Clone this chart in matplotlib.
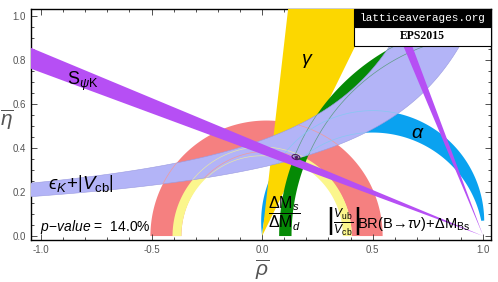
import matplotlib.pyplot as plt
import numpy as np
from matplotlib.patches import Polygon, Ellipse, Rectangle

plt.rcParams['font.family'] = ['Liberation Sans', 'DejaVu Sans']
plt.rcParams['mathtext.fontset'] = 'custom'
plt.rcParams['mathtext.rm'] = 'Liberation Sans'
plt.rcParams['mathtext.it'] = 'Liberation Sans:italic'
plt.rcParams['mathtext.bf'] = 'Liberation Sans:bold'

# constraints
# circular bands: (centre on rho axis, inner radius, outer radius)
btaunu_band = (0.02, 0.385, 0.525)   # BR(B->tau nu) + dM_Bs
vub_band = (0.0, 0.365, 0.405)       # |Vub/Vcb|
dm_band = (1.053, 0.92, 0.976)       # dMs/dMd
gamma_deg = (64.0, 83.5)             # angle at (0,0)
alpha_deg = (82.5, 93.5)             # angle at the apex
beta_deg = (20.4, 22.7)              # S_psiK, angle at (1,0)
beta2_deg = (67.3, 69.6)             # S_psiK, second solution
epsk_lower = (1.40, 0.438, 0.0)      # eta = b / (a - rho) + d
epsk_upper = (1.125, 0.457, 0.03)
apex = (0.153, 0.359)
p_value = 14.0

c_red = '#f58080'
c_vub = '#fbf68c'
c_gamma = '#fcd700'
c_green = '#058a05'
c_alpha = '#0aa2f0'
c_epsk = '#b3b4f7'
c_purple = '#b64ff4'

fig = plt.figure(figsize=(4.98, 2.82), dpi=100)
ax = fig.add_axes([31/498, 42/282, 460/498, 231/282])


def annulus(c, r1, r2):
    t = np.linspace(0, np.pi, 300)
    outer = np.column_stack([c + r2*np.cos(t), r2*np.sin(t)])
    inner = np.column_stack([c + r1*np.cos(t[::-1]), r1*np.sin(t[::-1])])
    return np.vstack([outer, inner])


def wedge(x0, a1, a2, sign=1):
    pts = [(x0, 0)]
    for a in (a1, a2):
        a = np.radians(a)
        pts.append((x0 + sign*3*np.cos(a), 3*np.sin(a)))
    return np.array(pts)


def alpha_arc(a, gmin=4.0):
    g = np.radians(np.linspace(gmin, 180 - a, 200))
    r = np.sin(np.radians(180 - a) - g) / np.sin(np.radians(a))
    return np.column_stack([r*np.cos(g), r*np.sin(g)])


def hyperbola(a, b, d):
    rho = np.linspace(-1.2, a - b/(1.2 - d), 300)
    return np.column_stack([rho, b/(a - rho) + d])


ax.add_patch(Polygon(annulus(*btaunu_band), closed=True, fc=c_red, ec='none', zorder=1))
ax.add_patch(Polygon(annulus(*vub_band), closed=True, fc=c_vub, ec='none', zorder=2))
a_lo = alpha_arc(alpha_deg[0])
a_hi = alpha_arc(alpha_deg[1])
ax.add_patch(Polygon(np.vstack([a_lo, a_hi[::-1]]), closed=True, fc=c_alpha, ec='none', zorder=3))
ax.add_patch(Polygon(wedge(0, *gamma_deg), closed=True, fc=c_gamma, ec='none', zorder=4))
ax.add_patch(Polygon(annulus(*dm_band), closed=True, fc=c_green, ec='none', zorder=5))

lo = hyperbola(*epsk_lower)
up = hyperbola(*epsk_upper)
epsk = Polygon(np.vstack([lo, up[::-1]]), closed=True, fc=c_epsk, ec='#9a9ae0', lw=0.4, zorder=6)
ax.add_patch(epsk)

# boundaries of the covered bands, seen through the eps_K band
t = np.linspace(0, np.pi, 300)
for (c, r1, r2), col in [(btaunu_band, '#f29a9a'), (vub_band, '#e6e6a8'), (dm_band, '#5e9c86')]:
    for r in (r1, r2):
        ln, = ax.plot(c + r*np.cos(t), r*np.sin(t), color=col, lw=0.5, zorder=6.5)
        ln.set_clip_path(epsk)
for arc in (a_lo, a_hi):
    ln, = ax.plot(arc[:, 0], arc[:, 1], color='#86c8f2', lw=0.5, zorder=6.5)
    ln.set_clip_path(epsk)

ax.add_patch(Polygon(wedge(1, *beta_deg, sign=-1), closed=True, fc=c_purple, ec='none', zorder=8))
ax.add_patch(Polygon(wedge(1, *beta2_deg, sign=-1), closed=True, fc=c_purple, ec='none', zorder=8))

ax.add_patch(Ellipse(apex, 0.036, 0.022, angle=-15, fill=False, ec='#4b2060', lw=0.8, zorder=9))
ax.plot(*apex, 'o', ms=1.4, color='#4b2060', zorder=9)

ax.text(-0.882, 0.705, r'$\mathrm{S}_{\psi\mathrm{K}}$', fontsize=13, va='center', zorder=10)
ax.text(0.204, 0.795, r'$\gamma$', fontsize=14, ha='center', va='center', zorder=10)
ax.text(0.704, 0.467, r'$\alpha$', fontsize=14, ha='center', va='center', zorder=10)
ax.text(-0.968, 0.239, '$\u03f5_K\\!+\\!\\left|V_{\\mathrm{cb}}\\right|$', fontsize=13.5, va='center',
        zorder=10)
ax.text(-1.005, 0.04, r'$p\!-\!value$ =  %.1f%%' % p_value, fontsize=10, va='center', zorder=10)
ax.text(0.027, 0.10, r'$\dfrac{\Delta\mathrm{M}_s}{\Delta\mathrm{M}_d}$', fontsize=11.5, va='center',
        zorder=10)
ax.text(0.29, 0.068, r'$\left|\frac{V_{\mathrm{ub}}}{V_{\mathrm{cb}}}\right|$', fontsize=12.5,
        va='center', zorder=10)
ax.text(0.43, 0.055, r'$\mathrm{BR(B}\!\rightarrow\!\tau\nu\mathrm{)}\!+\!\Delta\mathrm{M}_{\mathrm{Bs}}$',
        fontsize=10.5, va='center', zorder=10)

# label box
ax.add_patch(Rectangle((0.702, 0.922), 0.298, 0.078, transform=ax.transAxes, fc='black', ec='black',
                       lw=0.8, zorder=11, clip_on=False))
ax.add_patch(Rectangle((0.702, 0.84), 0.298, 0.082, transform=ax.transAxes, fc='white', ec='black',
                       lw=0.8, zorder=11, clip_on=False))
ax.text(0.851, 0.961, 'latticeaverages.org', transform=ax.transAxes, color='white', fontsize=8,
        family='Liberation Mono', ha='center', va='center', zorder=12)
ax.text(0.851, 0.881, 'EPS2015', transform=ax.transAxes, color='black', fontsize=8.5,
        family='Liberation Serif', weight='bold', ha='center', va='center', zorder=12)

ax.set_xlim(-1.045, 1.035)
ax.set_ylim(-0.018, 1.032)
ax.set_xticks([-1.0, -0.5, 0.0, 0.5, 1.0])
ax.set_xticks(np.arange(-1.0, 1.01, 0.1), minor=True)
ax.set_yticks(np.arange(0, 1.01, 0.2))
ax.set_yticks(np.arange(0, 1.01, 0.05), minor=True)
ax.xaxis.set_major_formatter(plt.FormatStrFormatter('%.1f'))
ax.yaxis.set_major_formatter(plt.FormatStrFormatter('%.1f'))
ax.tick_params(which='both', direction='in', top=True, right=True, width=0.6, color='#333333',
               labelsize=7, labelcolor='#555555')
ax.tick_params(which='major', length=4)
ax.tick_params(which='minor', length=2)
for s in ax.spines.values():
    s.set_linewidth(1.0)

fig.text(262/498, 1 - 270/282, r'$\overline{\rho}$', fontsize=15, color='#555555', ha='center', va='center')
fig.text(7/498, 1 - 120/282, r'$\overline{\eta}$', fontsize=15, color='#555555', ha='center', va='center')

plt.savefig('out.png', dpi=100)
